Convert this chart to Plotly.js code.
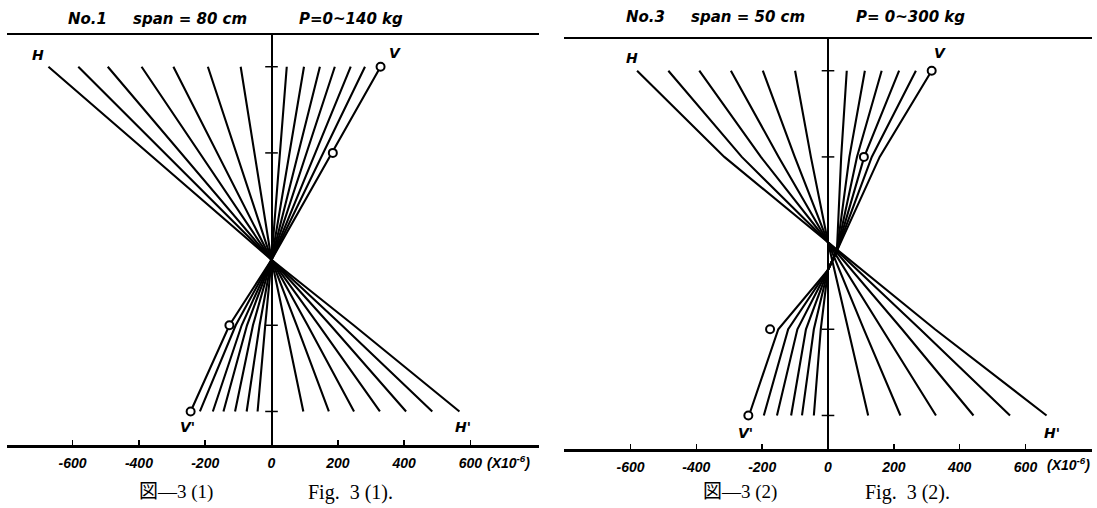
<!DOCTYPE html>
<html>
<head>
<meta charset="utf-8">
<script src="https://cdn.plot.ly/plotly-3.0.1.min.js"></script>
<style>html,body{margin:0;padding:0;background:#fff}#chart{width:1097px;height:508px}</style>
</head>
<body>
<div id="chart"></div>
<script>
// ---------- data (strain x10^-6 at gauge depths) ----------
const tickVals = [-600, -400, -200, 0, 200, 400, 600];
const tickText = ['-600', '-400', '-200', '0', '200', '400', '600'];
const gaugeDepth = [0, 1, 3, 4];

// Panel 1 : No.1, span = 80 cm, P = 0~140 kg
const p1Neutral = 2.24;
const p1H_top = [-93, -192, -296, -392, -494, -583, -673];
const p1H_g1  = [-51, -106, -163, -216, -273, -322, -372];
const p1H_g3  = [42, 76, 109, 143, 178, 212, 248];
const p1H_bot = [96, 173, 249, 327, 406, 485, 567];
const p1V_top = [46, 98, 146, 191, 239, 282, 329];
const p1V_g1  = [25, 54, 81, 105, 132, 156, 182];
const p1V_g3  = [-19, -36, -56, -74, -90, -108, -127];
const p1V_bot = [-42, -75, -110, -145, -177, -216, -244];
const p1Circle_x = [329, 185, -127, -244];
const p1Circle_d = [0, 1, 3, 4];

// Panel 2 : No.3, span = 50 cm, P = 0~300 kg
const p2NeutralH = 1.99;
const p2CrossV_x = [27, 0];
const p2CrossV_d = [2.09, 2.31];
const p2H_top = [-100, -198, -295, -391, -485, -580];
const p2H_g1  = [-52, -101, -150, -204, -262, -315];
const p2H_g3  = [61, 109, 164, 225, 280, 325];
const p2H_bot = [122, 220, 328, 442, 553, 664];
const p2V_top = [57, 112, 163, 216, 267, 315];
const p2V_g1  = [40, 65, 88, 110, 133, 157];
const p2V_g3  = [-22, -43, -67, -93, -121, -151];
const p2V_bot = [-43, -79, -112, -155, -195, -240];
const p2Circle_x = [315, 109, -176, -242];
const p2Circle_d = [0, 1, 3, 4];

// ---------- build ----------
const W = 1097, H = 508;
const px = x => x / W, py = y => 1 - y / H;
const lineStyle = {color: 'black', width: 2.1};
const traces = [];
function addLine(xs, ys, xa, ya) {
  traces.push({type: 'scatter', mode: 'lines', x: xs, y: ys, xaxis: xa, yaxis: ya,
    line: lineStyle, hoverinfo: 'skip'});
}
// panel 1
p1H_top.forEach((v, i) => addLine([v, p1H_g1[i], 0, p1H_g3[i], p1H_bot[i]], [0, 1, p1Neutral, 3, 4], 'x', 'y'));
p1V_top.forEach((v, i) => addLine([v, p1V_g1[i], 0, p1V_g3[i], p1V_bot[i]], [0, 1, p1Neutral, 3, 4], 'x', 'y'));
// panel 2
p2H_top.forEach((v, i) => addLine([v, p2H_g1[i], 0, p2H_g3[i], p2H_bot[i]], [0, 1, p2NeutralH, 3, 4], 'x2', 'y2'));
p2V_top.forEach((v, i) => addLine([v, p2V_g1[i], p2CrossV_x[0], p2CrossV_x[1], p2V_g3[i], p2V_bot[i]],
  [0, 1, p2CrossV_d[0], p2CrossV_d[1], 3, 4], 'x2', 'y2'));

// gauge tick marks on the vertical axis
[['x', 'y'], ['x2', 'y2']].forEach(([xa, ya]) => traces.push({
  type: 'scatter', mode: 'markers', x: gaugeDepth.map(() => 0), y: gaugeDepth, xaxis: xa, yaxis: ya,
  marker: {symbol: 'line-ew', size: 9, line: {color: 'black', width: 1.5}}, hoverinfo: 'skip'}));
// open circles
[[p1Circle_x, p1Circle_d, 'x', 'y'], [p2Circle_x, p2Circle_d, 'x2', 'y2']].forEach(([xs, ys, xa, ya]) => traces.push({
  type: 'scatter', mode: 'markers', x: xs, y: ys, xaxis: xa, yaxis: ya,
  marker: {symbol: 'circle', size: 8, color: 'white', line: {color: 'black', width: 2}}, hoverinfo: 'skip'}));

const tickFont = {family: 'Liberation Sans, Arial, sans-serif', size: 14, weight: 'bold', style: 'italic', color: 'black'};
function xAxis(domain, range, anchor) {
  return {domain, range, anchor, showline: true, mirror: true, linecolor: 'black', linewidth: 2.5,
    zeroline: true, zerolinecolor: 'black', zerolinewidth: 2, showgrid: false,
    ticks: 'inside', ticklen: 5, tickwidth: 1.5, tickcolor: 'black',
    tickmode: 'array', tickvals: tickVals, ticktext: tickText, tickfont: tickFont, ticklabelstandoff: 4,
    fixedrange: true};
}
function yAxis(domain, anchor) {
  return {domain, range: [4.389, -0.368], anchor, showgrid: false, zeroline: false, showline: false,
    showticklabels: false, ticks: '', fixedrange: true};
}

const lblFont = {family: 'DejaVu Sans, sans-serif', size: 14, weight: 'bold', style: 'italic', color: 'black'};
const titleFont = {family: 'DejaVu Sans, sans-serif', size: 15, weight: 'bold', style: 'italic', color: 'black'};
const unitFont = {family: 'Liberation Sans, Arial, sans-serif', size: 14, weight: 'bold', style: 'italic', color: 'black'};
const capFont = {family: 'Liberation Serif, Noto Sans CJK JP, serif', size: 19, color: 'black'};
const figFont = {family: 'Liberation Serif, serif', size: 20, color: 'black'};
function ann(text, x, y, font, xanchor) {
  return {text, x: px(x), y: py(y), xref: 'paper', yref: 'paper', showarrow: false, font,
    xanchor: xanchor || 'center', yanchor: 'middle'};
}
const annotations = [
  ann('No.1', 87, 19, titleFont), ann('span = 80 cm', 190, 19, titleFont), ann('P=0~140 kg', 351, 19, titleFont),
  ann('No.3', 645, 17, titleFont), ann('span = 50 cm', 748, 17, titleFont), ann('P= 0~300 kg', 910, 17, titleFont),
  ann('H', 38, 55, lblFont), ann('V', 395, 53, lblFont), ann("V'", 187, 427, lblFont), ann("H'", 463, 427, lblFont),
  ann('H', 632, 58, lblFont), ann('V', 940, 53, lblFont), ann("V'", 745, 433, lblFont), ann("H'", 1052, 433, lblFont),
  ann('(X10<sup>-6</sup>)', 485, 462, unitFont, 'left'), ann('(X10<sup>-6</sup>)', 1045, 464, unitFont, 'left'),
  ann('図—3 (1)', 176, 492, capFont), ann('Fig.  3 (1).', 350, 492, figFont),
  ann('図—3 (2)', 740, 492, capFont), ann('Fig.  3 (2).', 908, 492, figFont)
];

const layout = {
  width: W, height: H, margin: {l: 0, r: 0, t: 0, b: 0},
  paper_bgcolor: 'white', plot_bgcolor: 'white', showlegend: false,
  xaxis: xAxis([7 / W, 539 / W], [-798, 807], 'y'),
  yaxis: yAxis([1 - 445 / H, 1 - 35 / H], 'x'),
  xaxis2: xAxis([564 / W, 1092 / W], [-802, 802], 'y2'),
  yaxis2: yAxis([1 - 449 / H, 1 - 39 / H], 'x2'),
  annotations
};
Plotly.newPlot('chart', traces, layout, {staticPlot: true, displayModeBar: false});
</script>
</body>
</html>
